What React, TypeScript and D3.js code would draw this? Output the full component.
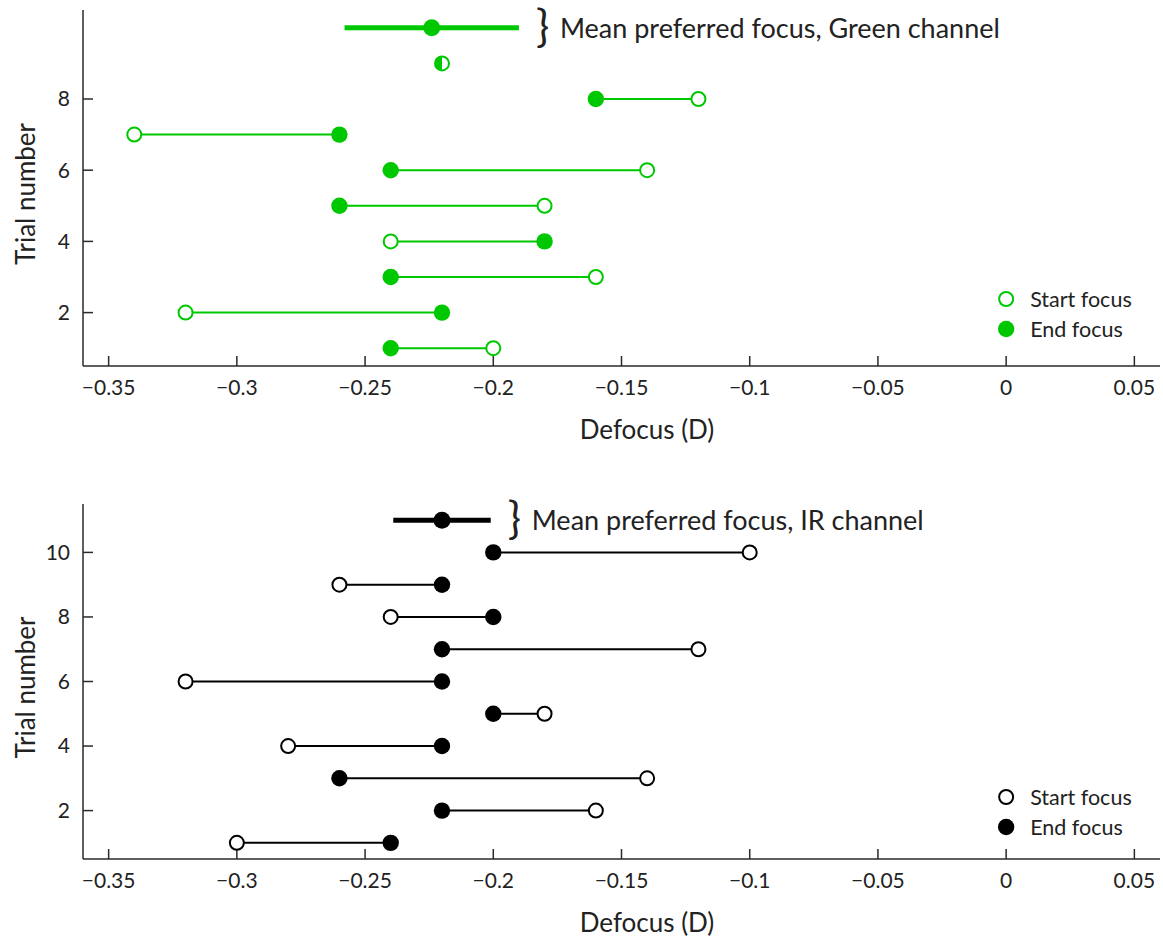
import * as d3 from "d3";
import * as React from "react";

// x axis ticks shared by both panels
const xTicks = [-0.35, -0.3, -0.25, -0.2, -0.15, -0.1, -0.05, 0, 0.05];
const xTickLabels = ["\u22120.35", "\u22120.3", "\u22120.25", "\u22120.2", "\u22120.15", "\u22120.1", "\u22120.05", "0", "0.05"];

// Green channel
const greenTrials = [1, 2, 3, 4, 5, 6, 7, 8, 9];
const greenStart = [-0.2, -0.32, -0.16, -0.24, -0.18, -0.14, -0.34, -0.12, -0.22];
const greenEnd = [-0.24, -0.22, -0.24, -0.18, -0.26, -0.24, -0.26, -0.16, -0.22];
const greenMean = -0.224;
const greenSd = 0.034;
const greenYTicks = [2, 4, 6, 8];

// IR channel
const irTrials = [1, 2, 3, 4, 5, 6, 7, 8, 9, 10];
const irStart = [-0.3, -0.16, -0.14, -0.28, -0.18, -0.32, -0.12, -0.24, -0.26, -0.1];
const irEnd = [-0.24, -0.22, -0.26, -0.22, -0.2, -0.22, -0.22, -0.2, -0.22, -0.2];
const irMean = -0.22;
const irSd = 0.019;
const irYTicks = [2, 4, 6, 8, 10];

const FONT = "Lato, 'Open Sans', sans-serif";
const AXIS = "#2a2a2a";
const TXT = "#222";

function drawPanel(svg, p) {
  const x = d3.scaleLinear().domain([-0.36, 0.06]).range([83, 1160]);
  const y = d3.scaleLinear().domain(p.yDomain).range([p.bottom, p.top]);
  const g = svg.append("g");

  // axes (ticks point inward)
  g.append("line").attr("x1", x.range()[0]).attr("x2", x.range()[1])
    .attr("y1", p.bottom).attr("y2", p.bottom).attr("stroke", AXIS).attr("stroke-width", 1.5);
  g.append("line").attr("x1", 83).attr("x2", 83)
    .attr("y1", p.bottom).attr("y2", p.top).attr("stroke", AXIS).attr("stroke-width", 1.5);

  g.selectAll(".xt").data(xTicks).join("line")
    .attr("x1", d => x(d)).attr("x2", d => x(d))
    .attr("y1", p.bottom).attr("y2", p.bottom - 10)
    .attr("stroke", AXIS).attr("stroke-width", 1.5);
  g.selectAll(".xl").data(xTicks).join("text")
    .attr("x", d => x(d)).attr("y", p.bottom + 29)
    .attr("text-anchor", "middle").attr("font-family", FONT).attr("font-size", 21).attr("fill", TXT)
    .text((d, i) => xTickLabels[i]);

  g.selectAll(".yt").data(p.yTicks).join("line")
    .attr("x1", 83).attr("x2", 93)
    .attr("y1", d => y(d)).attr("y2", d => y(d))
    .attr("stroke", AXIS).attr("stroke-width", 1.5);
  g.selectAll(".yl").data(p.yTicks).join("text")
    .attr("x", 70).attr("y", d => y(d)).attr("dy", "0.35em")
    .attr("text-anchor", "end").attr("font-family", FONT).attr("font-size", 21).attr("fill", TXT)
    .text(d => d);

  g.append("text")
    .attr("x", 647).attr("y", p.bottom + 73)
    .attr("text-anchor", "middle").attr("font-family", FONT).attr("font-size", 26).attr("fill", TXT)
    .text("Defocus (D)");
  g.append("text")
    .attr("transform", `translate(35,${(p.top + p.bottom) / 2 + 6}) rotate(-90)`)
    .attr("text-anchor", "middle").attr("font-family", FONT).attr("font-size", 26).attr("fill", TXT)
    .text("Trial number");

  const rows = p.trials.map((t, i) => ({ t, s: p.start[i], e: p.end[i] }));

  // connecting lines
  g.selectAll(".seg").data(rows).join("line")
    .attr("x1", d => x(d.s)).attr("x2", d => x(d.e))
    .attr("y1", d => y(d.t)).attr("y2", d => y(d.t))
    .attr("stroke", p.color).attr("stroke-width", 2);

  const full = rows.filter(d => d.s !== d.e);
  const same = rows.filter(d => d.s === d.e);

  g.selectAll(".st").data(full).join("circle")
    .attr("cx", d => x(d.s)).attr("cy", d => y(d.t)).attr("r", 7)
    .attr("fill", "white").attr("stroke", p.color).attr("stroke-width", 2);
  g.selectAll(".en").data(full).join("circle")
    .attr("cx", d => x(d.e)).attr("cy", d => y(d.t)).attr("r", 8.2)
    .attr("fill", p.color);

  // start == end: half filled marker
  const half = d3.arc().innerRadius(0).outerRadius(7).startAngle(Math.PI).endAngle(2 * Math.PI);
  g.selectAll(".hb").data(same).join("circle")
    .attr("cx", d => x(d.s)).attr("cy", d => y(d.t)).attr("r", 7)
    .attr("fill", "white").attr("stroke", p.color).attr("stroke-width", 2);
  g.selectAll(".hf").data(same).join("path")
    .attr("transform", d => `translate(${x(d.s)},${y(d.t)})`)
    .attr("d", half()).attr("fill", p.color);

  // mean preferred focus
  const my = y(p.meanRow);
  const rx = x(p.mean + p.sd);
  g.append("line").attr("x1", x(p.mean - p.sd)).attr("x2", rx)
    .attr("y1", my).attr("y2", my).attr("stroke", p.color).attr("stroke-width", 5);
  g.append("circle").attr("cx", x(p.mean)).attr("cy", my).attr("r", 8.5).attr("fill", p.color);
  g.append("text").attr("x", rx + 17).attr("y", my + 14)
    .attr("font-family", FONT).attr("font-size", 44).attr("fill", TXT)
    .text("}");
  g.append("text").attr("x", rx + 41).attr("y", my).attr("dy", "0.36em")
    .attr("font-family", FONT).attr("font-size", 27).attr("fill", TXT)
    .text(p.meanLabel);

  // legend
  const lx = x(0);
  g.append("circle").attr("cx", lx).attr("cy", p.legendY).attr("r", 7)
    .attr("fill", "white").attr("stroke", p.color).attr("stroke-width", 2);
  g.append("circle").attr("cx", lx).attr("cy", p.legendY + 30).attr("r", 8.2).attr("fill", p.color);
  g.append("text").attr("x", lx + 24).attr("y", p.legendY).attr("dy", "0.35em")
    .attr("font-family", FONT).attr("font-size", 21.5).attr("fill", TXT).text("Start focus");
  g.append("text").attr("x", lx + 24).attr("y", p.legendY + 30).attr("dy", "0.35em")
    .attr("font-family", FONT).attr("font-size", 21.5).attr("fill", TXT).text("End focus");
}

export default function App() {
  const ref = React.useRef(null);

  React.useEffect(() => {
    document.body.style.margin = "0";
    const svg = d3.select(ref.current);
    svg.selectAll("*").remove();
    svg.append("rect").attr("width", 1163).attr("height", 938).attr("fill", "white");

    drawPanel(svg, {
      yDomain: [0.5, 10.5], top: 10, bottom: 366, yTicks: greenYTicks,
      trials: greenTrials, start: greenStart, end: greenEnd,
      mean: greenMean, sd: greenSd, meanRow: 10,
      meanLabel: "Mean preferred focus, Green channel",
      color: "#00c800", legendY: 299,
    });
    drawPanel(svg, {
      yDomain: [0.5, 11.5], top: 504, bottom: 859, yTicks: irYTicks,
      trials: irTrials, start: irStart, end: irEnd,
      mean: irMean, sd: irSd, meanRow: 11,
      meanLabel: "Mean preferred focus, IR channel",
      color: "#000000", legendY: 797,
    });
  }, []);

  return <svg ref={ref} width={1163} height={938} style={{ display: "block" }}></svg>;
}
